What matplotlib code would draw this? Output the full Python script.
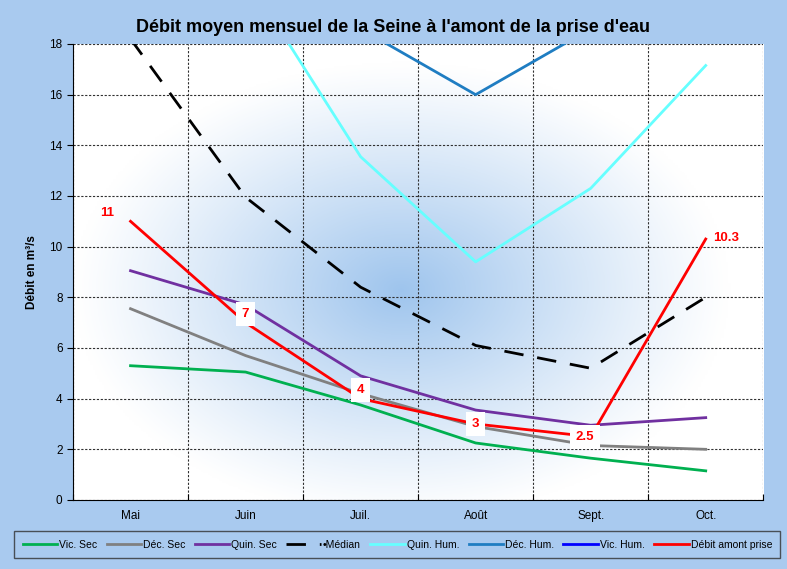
import numpy as np
import matplotlib.pyplot as plt

plt.rcParams['font.family'] = ['Liberation Sans', 'DejaVu Sans']

mois = ['Mai', 'Juin', 'Juil.', 'Août', 'Sept.', 'Oct.']
vic_sec = [5.3, 5.05, 3.75, 2.25, 1.65, 1.15]
dec_sec = [7.55, 5.7, 4.2, 2.9, 2.15, 2.0]
quin_sec = [9.05, 7.7, 4.9, 3.55, 2.95, 3.25]
median = [18.2, 11.95, 8.4, 6.1, 5.2, 8.0]
quin_hum = [27.0, 20.7, 13.55, 9.4, 12.3, 17.15]
dec_hum = [30.0, 25.0, 18.6, 16.0, 18.6, 28.0]
vic_hum = [35.0, 30.0, 25.0, 22.0, 24.0, 30.0]
debit_prise = [11, 7, 4, 3, 2.5, 10.3]
etiquettes = ['11', '7', '4', '3', '2.5', '10.3']

bleu_fond = '#a9caef'

fig = plt.figure(figsize=(7.87, 5.69), dpi=100, facecolor=bleu_fond)
ax = fig.add_axes([0.0928, 0.1213, 0.877, 0.8014])
x = np.arange(len(mois))

# degrade radial bleu au centre de la zone de tracé
gx, gy = np.meshgrid(np.linspace(-1, 1, 300), np.linspace(-1, 1, 300))
r = np.sqrt(((gx + 0.05) / 0.95) ** 2 + ((gy - 0.08) / 1.0) ** 2)
t = np.clip(1 - r, 0, 1) ** 1.1
c0 = np.array([1.0, 1.0, 1.0])
c1 = np.array([0.62, 0.77, 0.93])
img = c0[None, None, :] * (1 - t[..., None]) + c1[None, None, :] * t[..., None]
ax.imshow(img, extent=[0, 1, 0, 1], transform=ax.transAxes, aspect='auto', zorder=0)

ax.plot(x, vic_sec, color='#00b050', lw=2, label='Vic. Sec', zorder=3)
ax.plot(x, dec_sec, color='#808080', lw=2, label='Déc. Sec', zorder=3)
ax.plot(x, quin_sec, color='#7030a0', lw=2, label='Quin. Sec', zorder=3)
ax.plot(x, median, color='black', lw=2, dashes=(7, 5), label='•Médian', zorder=3)
ax.plot(x, quin_hum, color='#66ffff', lw=2, label='Quin. Hum.', zorder=3)
ax.plot(x, dec_hum, color='#1f7dc2', lw=2, label='Déc. Hum.', zorder=3)
ax.plot(x, vic_hum, color='#0000ff', lw=2, label='Vic. Hum.', zorder=3)
ax.plot(x, debit_prise, color='#ff0000', lw=2, label='Débit amont prise', zorder=4)

# etiquettes de la serie rouge
for i, (v, s) in enumerate(zip(debit_prise, etiquettes)):
    if i == 0:
        ax.annotate(s, (x[i], v), xytext=(-12, 6), textcoords='offset points',
                    ha='right', va='center', color='red', fontsize=9.5, fontweight='bold', zorder=5)
    elif i == len(x) - 1:
        ax.annotate(s, (x[i], v), xytext=(5, 1), textcoords='offset points',
                    ha='left', va='center', color='red', fontsize=9.5, fontweight='bold', zorder=5)
    else:
        dy = 6 if i in (1, 2) else 0
        dx = -4 if i == 4 else 0
        ax.annotate(s, (x[i], v), xytext=(dx, dy), textcoords='offset points',
                    ha='center', va='center', color='red', fontsize=9.5, fontweight='bold', zorder=5,
                    bbox=dict(boxstyle='square,pad=0.45', fc='white', ec='none'))

ax.set_xlim(-0.5, 5.5)
ax.set_ylim(0, 18)
ax.set_yticks(np.arange(0, 19, 2))
ax.set_xticks(np.arange(-0.5, 5.6, 1))
ax.set_xticklabels([])
ax.set_xticks(x, minor=True)
ax.set_xticklabels(mois, minor=True)
ax.tick_params(axis='x', which='minor', length=0, labelsize=8.5, pad=7)
ax.tick_params(axis='x', which='major', length=4, direction='in')
ax.tick_params(axis='y', labelsize=8.5, length=4, direction='out')
ax.grid(True, which='major', color='#303030', ls=(0, (2, 1.5)), lw=0.8)
for g in ax.get_xgridlines() + ax.get_ygridlines():
    g.set_zorder(1)
ax.spines['top'].set_visible(False)
ax.spines['right'].set_visible(False)
ax.set_ylabel('Débit en m³/s', fontsize=8.5, fontweight='bold', labelpad=8)

fig.suptitle("Débit moyen mensuel de la Seine à l'amont de la prise d'eau",
             fontsize=13, fontweight='bold', y=0.967)

leg = fig.legend(loc='lower center', bbox_to_anchor=(0.505, 0.01), ncol=8, fontsize=7.5,
                 frameon=True, fancybox=False, handlelength=3.3, handletextpad=0.2,
                 columnspacing=0.9, borderpad=0.8)
leg.get_frame().set_facecolor(bleu_fond)
leg.get_frame().set_edgecolor('#303030')
leg.get_frame().set_linewidth(1.0)

fig.savefig('out.png', dpi=100, facecolor=fig.get_facecolor())
